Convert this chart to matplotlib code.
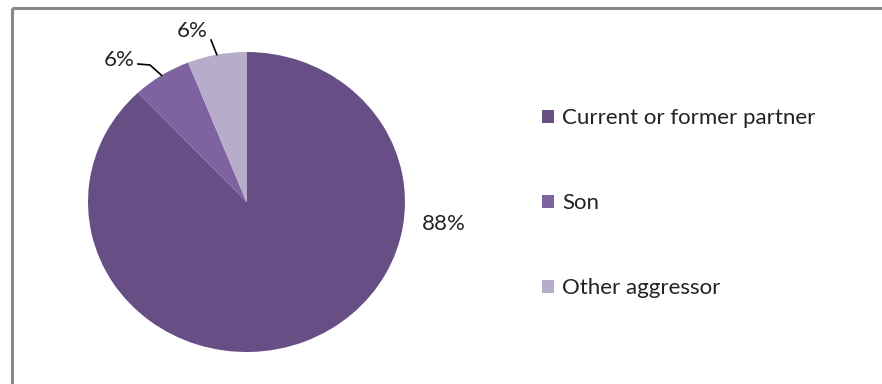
import numpy as np
import matplotlib.pyplot as plt
from matplotlib.lines import Line2D

# aggressor shares (%)
categories = ['Current or former partner', 'Son', 'Other aggressor']
shares = [88, 6, 6]
colors = ['#674F86', '#7E63A0', '#B8ACCB']

W, H = 882, 384
fig = plt.figure(figsize=(W / 100, H / 100), dpi=100)
plt.rcParams['font.family'] = ['Lato', 'DejaVu Sans']

# outer chart frame (top and left edges are the only ones in view)
fx, fy = 11.5 / W, 1 - 7.5 / H
fig.add_artist(Line2D([fx, 1.0], [fy, fy], transform=fig.transFigure,
                      color='#888888', lw=2.2, solid_capstyle='butt'))
fig.add_artist(Line2D([fx, fx], [0, fy], transform=fig.transFigure,
                      color='#888888', lw=2.2, solid_capstyle='butt'))

# pie box in pixels: centre (246.5, 202), rx 158.5, ry 150
cx, cy, rx, ry = 246.5, 202, 158.5, 150
ax = fig.add_axes([(cx - rx) / W, (H - cy - ry) / H, 2 * rx / W, 2 * ry / H])
wedges, _ = ax.pie(shares, colors=colors, startangle=90, counterclock=False,
                   radius=1, wedgeprops=dict(linewidth=0))
ax.set_aspect('auto')
ax.set_xlim(-1, 1)
ax.set_ylim(-1, 1)
ax.axis('off')


def px(x, y):
    # pixel position -> pie data coords
    return (x - cx) / rx, (cy - y) / ry


def edge(w):
    a = np.deg2rad((w.theta1 + w.theta2) / 2)
    return np.cos(a), np.sin(a)


fs = 16
tc = '#222222'
# 88 % label sits to the right of the pie
ax.text(*px(444, 224), f'{shares[0]}%', ha='center', va='center', fontsize=fs, color=tc)

# Son: leader with a knee
x0, y0 = edge(wedges[1])
kx, ky = px(150, 65)
ex, ey = px(138, 64)
ax.add_line(Line2D([x0, kx, ex], [y0, ky, ey], color='black', lw=1.2, clip_on=False))
ax.text(*px(135, 60), f'{shares[1]}%', ha='right', va='center', fontsize=fs, color=tc)

# Other aggressor: short straight leader
x0, y0 = edge(wedges[2])
ex, ey = px(211, 40)
ax.add_line(Line2D([x0, ex], [y0, ey], color='black', lw=1.2, clip_on=False))
ax.text(*px(192, 31), f'{shares[2]}%', ha='center', va='center', fontsize=fs, color=tc)

leg = fig.legend(wedges, categories, loc='upper left',
                 bbox_to_anchor=(531 / W, (H - 97) / H), frameon=False,
                 fontsize=fs, handlelength=0.55, handleheight=0.55, handletextpad=0.35,
                 labelspacing=2.93, borderpad=0)
for t in leg.get_texts():
    t.set_color(tc)

fig.savefig('out.png', dpi=100, facecolor='white')
